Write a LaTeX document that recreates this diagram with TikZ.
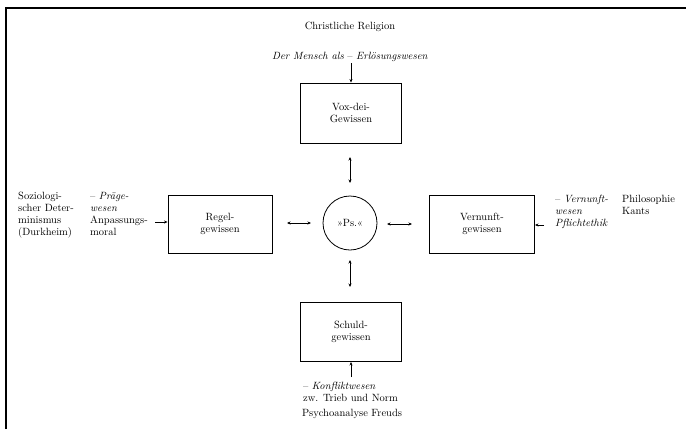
\documentclass[tikz,border=0pt]{standalone}
\usetikzlibrary{arrows.meta}
\begin{document}
\begin{tikzpicture}[x=1pt,y=-1pt,
  every node/.style={font=\fontsize{10.5}{12}\selectfont, inner sep=0pt},
  gbox/.style={draw, line width=0.9pt, minimum width=101pt, minimum height=60pt, align=center},
  txt/.style={align=left, anchor=north west},
  arr/.style={line width=0.8pt, -{Stealth[length=3.5pt,width=3pt]}},
  darr/.style={line width=0.8pt, {Stealth[length=3.5pt,width=3pt]}-{Stealth[length=3.5pt,width=3pt]}}]
\useasboundingbox (0,0) rectangle (686,429);
\draw[line width=1.3pt] (6,429) -- (6,8) -- (686,8);
% central
\node[draw, circle, line width=0.8pt, minimum size=54pt] (ps) at (350,223) {\guillemotright Ps.\guillemotleft};
\node[gbox] (vox) at (351,113) {Vox-dei-\\Gewissen};
\node[gbox, minimum height=59pt] (schuld) at (351,332) {Schuld-\\gewissen};
\node[gbox, minimum width=104pt, minimum height=58pt] (regel) at (220,224) {Regel-\\gewissen};
\node[gbox, minimum width=105pt, minimum height=58pt] (vern) at (482,224) {Vernunft-\\gewissen};
% texts
\node (christ) at (350,27) {Christliche Religion};
\node (mensch) at (350,57) {\textit{Der Mensch als} -- \textit{Erlösungswesen}};
\node (psy) at (352,414) {Psychoanalyse Freuds};
\node (konf) [txt] at (303,382) {-- \textit{Konfliktwesen}\\zw. Trieb und Norm};
\node (sozio) [txt] at (18,192) {Soziologi-\\scher Deter-\\minismus\\(Durkheim)};
\node (praege) [txt] at (90,192) {-- \textit{Präge-}\\\textit{wesen}\\Anpassungs-\\moral};
\node (kant) [txt] at (555,195) {-- \textit{Vernunft-}\\\textit{wesen}\\\textit{Pflichtethik}};
\node (philo) [txt] at (622,195) {Philosophie\\Kants};
% arrows
\draw[arr] (vox.north |- 0,63) coordinate (m1) -- (vox.north);
\draw[arr] (schuld.south |- 0,377) coordinate (k1) -- (schuld.south);
\draw[arr] (155,222) coordinate (a1) -- (regel.west |- a1);
\draw[arr] (544,225) coordinate (p1) -- (vern.east |- p1);
\draw[darr] (350,157) coordinate (v1) -- (350,183) coordinate (v2);
\draw[darr] (350,260) coordinate (s1) -- (350,287) coordinate (s2);
\draw[darr] (287,223) coordinate (r1) -- (311,223) coordinate (r2);
\draw[darr] (387,224) coordinate (e1) -- (412,224) coordinate (e2);
\end{tikzpicture}
\end{document}
